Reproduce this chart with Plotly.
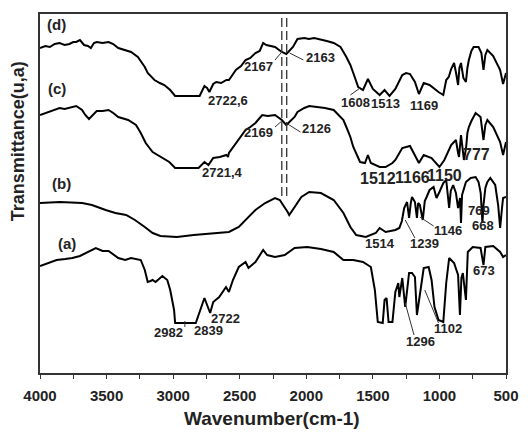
import plotly.graph_objects as go

# FTIR spectra, wavenumber (cm-1) vs transmittance (arbitrary units, stacked)
WN_D = [4000, 3960, 3926, 3890, 3853, 3815, 3779, 3750, 3728, 3700, 3669, 3640, 3618, 3595, 3574, 3530,
        3485, 3450, 3412, 3360, 3316, 3265, 3213, 3191, 3140, 3100, 3066, 3022, 2985, 2900, 2801,
        2765, 2745, 2728, 2699, 2676, 2640, 2600, 2581, 2560, 2529, 2490, 2456, 2420, 2382, 2350,
        2324, 2300, 2270, 2235, 2184, 2150, 2100, 2066, 2015, 1980, 1941, 1900, 1846, 1794, 1743,
        1699, 1669, 1647, 1610, 1574, 1537, 1500, 1449, 1412, 1375, 1331, 1300, 1279, 1250, 1221,
        1184, 1154, 1118, 1074, 1007, 971, 949, 930, 912, 890, 875, 860, 850, 838, 820, 801, 790,
        779, 760, 743, 706, 685, 669, 655, 640, 596, 544, 522, 500]
T_D = [325, 327, 326, 329, 330, 328, 329, 331, 331, 333, 328, 327, 325, 330, 331, 330,
       331, 329, 325, 323, 321, 316, 306, 300, 293, 290, 288, 283, 277, 277, 277,
       287, 285, 281, 289, 291, 290, 293, 293, 297, 303, 307, 313, 315, 320, 322,
       330, 328, 327, 326, 321, 319, 326, 334, 335, 334, 335, 334, 332, 330, 326,
       316, 308, 300, 286, 283, 294, 284, 278, 283, 277, 284, 292, 298, 300, 299,
       291, 279, 290, 288, 281, 278, 293, 296, 304, 310, 300, 288, 305, 310, 295, 291, 305,
       313, 322, 326, 326, 320, 303, 318, 323, 317, 303, 289, 300]

WN_C = [4000, 3960, 3926, 3890, 3853, 3815, 3779, 3750, 3728, 3684, 3660, 3632, 3600, 3574, 3530, 3485,
        3450, 3412, 3338, 3279, 3243, 3206, 3154, 3096, 3029, 2985, 2900, 2809, 2765, 2735, 2699,
        2650, 2600, 2588, 2581, 2560, 2529, 2456, 2420, 2382, 2331, 2290, 2235, 2184, 2150, 2088,
        2066, 2015, 1978, 1919, 1860, 1794, 1721, 1699, 1669, 1647, 1596, 1559, 1537, 1515, 1449,
        1404, 1353, 1331, 1279, 1221, 1191, 1154, 1118, 1059, 1000, 963, 912, 876, 860, 853, 838,
        816, 800, 790, 779, 760, 728, 691, 669, 655, 640, 596, 544, 522, 500]
T_C = [258, 260, 261, 263, 265, 264, 265, 266, 267, 263, 258, 254, 259, 262, 262, 263,
       260, 256, 253, 248, 240, 230, 221, 216, 211, 205, 205, 205, 211, 208, 215,
       216, 218, 216, 220, 224, 230, 243, 246, 250, 258, 257, 258, 253, 248, 256,
       261, 265, 267, 266, 265, 263, 253, 246, 236, 226, 211, 210, 218, 210, 206,
       206, 210, 213, 225, 227, 220, 210, 218, 215, 206, 213, 228, 233, 220, 216, 238,
       213, 225, 240, 246, 252, 260, 256, 233, 248, 253, 246, 231, 218, 231]

WN_B = [4000, 3850, 3684, 3610, 3507, 3434, 3353, 3287, 3213, 3154, 3096, 2971, 2846, 2699, 2581,
        2507, 2434, 2382, 2309, 2235, 2199, 2162, 2140, 2128, 2088, 2037, 1978, 1890, 1794, 1721,
        1669, 1625, 1553, 1478, 1449, 1404, 1331, 1301, 1282, 1265, 1243, 1228, 1215, 1206, 1184,
        1169, 1160, 1147, 1125, 1110, 1096, 1074, 1044, 1022, 1000, 971, 949, 935, 927, 915, 897,
        876, 860, 845, 838, 830, 824, 801, 765, 728, 706, 690, 677, 669, 655, 640, 618, 581, 559,
        544, 530, 522, 500]
T_B = [170, 171, 170, 168, 163, 160, 158, 153, 146, 140, 137, 136, 138, 140, 141,
       146, 156, 163, 170, 175, 173, 166, 161, 158, 166, 176, 181, 180, 173, 160,
       146, 138, 136, 140, 145, 141, 143, 145, 152, 165, 171, 155, 170, 176, 171,
       155, 170, 168, 153, 172, 176, 183, 186, 175, 181, 190, 193, 170, 165, 182, 188,
       180, 165, 175, 150, 178, 181, 191, 195, 196, 191, 180, 150, 168, 185, 191, 195, 188, 168,
       145, 165, 175, 176]

WN_A = [4000, 3930, 3875, 3810, 3757, 3700, 3654, 3610, 3581, 3530, 3485, 3412, 3360, 3316, 3243,
        3213, 3191, 3170, 3154, 3132, 3081, 3044, 3022, 2993, 2985, 2900, 2830, 2765, 2722, 2699,
        2654, 2603, 2581, 2551, 2507, 2456, 2434, 2382, 2324, 2294, 2235, 2162, 2088, 1993, 1890,
        1794, 1721, 1647, 1574, 1515, 1485, 1463, 1426, 1412, 1397, 1382, 1353, 1331, 1309, 1301,
        1279, 1257, 1228, 1206, 1184, 1169, 1147, 1118, 1081, 1059, 1037, 1007, 971, 949, 927,
        890, 860, 846, 835, 824, 801, 787, 750, 691, 669, 655, 596, 544, 522, 500]
T_A = [107, 110, 113, 114, 115, 117, 120, 123, 125, 122, 122, 115, 113, 115, 113,
       103, 91, 92, 93, 91, 97, 93, 83, 63, 50, 50, 50, 75, 60, 71,
       76, 86, 81, 93, 106, 111, 105, 111, 123, 118, 116, 118, 125, 126, 124,
       121, 113, 113, 111, 106, 83, 51, 50, 73, 75, 51, 51, 81, 90, 76,
       95, 66, 100, 100, 96, 58, 80, 105, 106, 93, 66, 53, 51, 90, 115,
       110, 98, 58, 95, 100, 73, 121, 126, 125, 108, 126, 127, 121, 116, 118]

SERIES = [(WN_A, T_A), (WN_B, T_B), (WN_C, T_C), (WN_D, T_D)]

# Curve tags (text, wavenumber, transmittance)
CURVE_TAGS = [("(d)", 3875, 349), ("(c)", 3875, 285), ("(b)", 3838, 190), ("(a)", 3794, 130)]

# Band assignments (text, wavenumber, transmittance, font size)
BAND_LABELS = [
    ("2722,6", 2588, 273, 13), ("2167", 2360, 307, 13), ("2163", 1897, 316, 13),
    ("1608", 1632, 271, 13), ("1513", 1404, 270, 13), ("1169", 1118, 268, 13),
    ("2721,4", 2632, 201, 13), ("2169", 2360, 241, 13), ("2126", 1926, 245, 13),
    ("1512", 1463, 195, 16), ("1166", 1206, 196, 16), ("1150", 963, 198, 16), ("777", 721, 219, 16),
    ("1514", 1449, 130, 13), ("1239", 1110, 130, 13), ("1146", 934, 143, 13),
    ("769", 706, 163, 13), ("668", 676, 148, 13), ("673", 662, 103, 13),
    ("1102", 934, 45, 13), ("1296", 1140, 32, 13),
    ("2982", 3037, 41, 13), ("2839", 2735, 43, 13), ("2722", 2610, 55, 13),
]

# Leader lines from band labels to the bands (x0, y0, x1, y1)
LEADERS = [
    (2235, 313, 2184, 321), (2125, 320, 2022, 313), (1669, 278, 1596, 285),
    (2235, 246, 2184, 252), (2140, 249, 2044, 241),
    (1184, 135, 1257, 153), (1044, 147, 1147, 156),
    (1007, 50, 1110, 83), (1191, 38, 1257, 70), (2912, 52, 2912, 46),
]

# Vertical reference lines (wavenumber) and their extent
REF_LINES = [2184, 2147]
REF_SPAN = (177, 359)

TICKS = [4000, 3500, 3000, 2500, 2000, 1500, 1000, 500]

FONT = "Liberation Sans, Arial, sans-serif"
TXT = "#222222"

fig = go.Figure()
for wn, t in SERIES:
    fig.add_trace(go.Scatter(x=wn, y=t, mode="lines",
                             line=dict(color="black", width=2), showlegend=False,
                             hoverinfo="skip"))

for text, wn, t in CURVE_TAGS:
    fig.add_annotation(x=wn, y=t, xref="x", yref="y", text=f"<b>{text}</b>", showarrow=False,
                       font=dict(family=FONT, size=15, color=TXT))

for text, wn, t, size in BAND_LABELS:
    fig.add_annotation(x=wn, y=t, xref="x", yref="y", text=f"<b>{text}</b>", showarrow=False,
                       font=dict(family=FONT, size=size, color=TXT))

for x0, y0, x1, y1 in LEADERS:
    fig.add_shape(type="line", xref="x", yref="y", x0=x0, y0=y0, x1=x1, y1=y1,
                  line=dict(color="#333333", width=1))

for wn in REF_LINES:
    fig.add_shape(type="line", xref="x", yref="y", x0=wn, x1=wn, y0=REF_SPAN[0], y1=REF_SPAN[1],
                  line=dict(color="#333333", width=1.3, dash="9px,4px"))

fig.add_annotation(x=-0.047, y=0.646, xref="paper", yref="paper", text="<b>Transmittance(u,a)</b>",
                   xanchor="center", yanchor="middle",
                   textangle=-90, showarrow=False, font=dict(family=FONT, size=18, color=TXT))
fig.add_annotation(x=0.497, y=-0.128, xref="paper", yref="paper", text="<b>Wavenumber(cm-1)</b>",
                   xanchor="center", yanchor="middle",
                   showarrow=False, font=dict(family=FONT, size=19, color=TXT))

fig.update_layout(
    width=531, height=432,
    margin=dict(l=40, r=15, t=14, b=59),
    paper_bgcolor="white", plot_bgcolor="white",
    xaxis=dict(range=[4000, 500], tickvals=TICKS, ticktext=[f"<b>{v}</b>" for v in TICKS],
               ticks="outside", ticklen=4, tickwidth=1.3, tickcolor="#333333",
               minor=dict(dtick=250, tick0=500, ticks="outside", ticklen=4, tickwidth=1.3,
                          tickcolor="#333333"),
               ticklabelstandoff=4,
               showline=True, linecolor="#333333", linewidth=1.6, mirror=True,
               showgrid=False, zeroline=False,
               tickfont=dict(family=FONT, size=15, color=TXT)),
    yaxis=dict(range=[0, 359], showticklabels=False, ticks="",
               showline=True, linecolor="#333333", linewidth=1.6, mirror=True,
               showgrid=False, zeroline=False),
)

fig.write_html("out.html")
